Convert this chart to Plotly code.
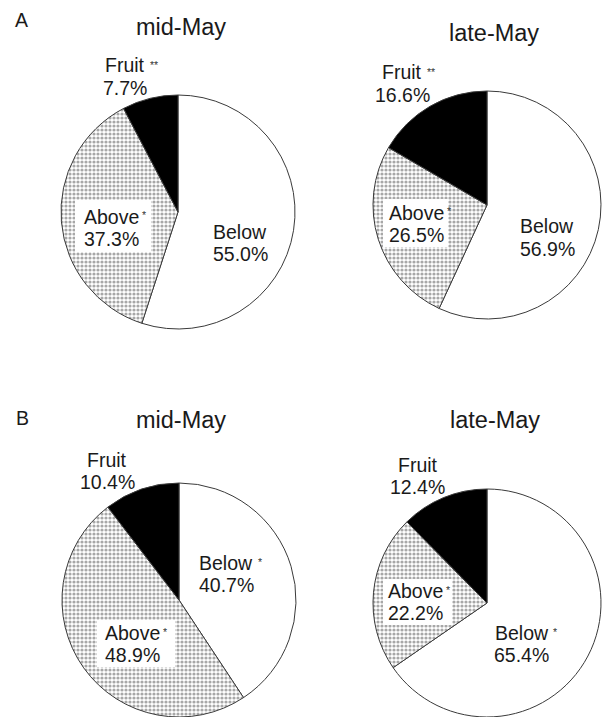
import plotly.graph_objects as go

# Share of assimilates by sink (percent)
categories = ["Below", "Above", "Fruit"]
a_mid = [55.0, 37.3, 7.7]
a_late = [56.9, 26.5, 16.6]
b_mid = [40.7, 48.9, 10.4]
b_late = [65.4, 22.2, 12.4]

# significance marks per sink
a_mid_sig = ["", "*", "**"]
a_late_sig = ["", "*", "**"]
b_mid_sig = ["*", "*", ""]
b_late_sig = ["*", "*", ""]

panel_titles = ["mid-May", "late-May", "mid-May", "late-May"]
panel_letters = ["A", "B"]

W, H = 603, 717
FONT = "Liberation Sans, Arial, sans-serif"
TXT = "#1a1a1a"
LABEL_SIZE = 19.5
LINE_PITCH = 22.5

# (center x, center y, radius) in pixels for each pie
pies = [
    (a_mid, a_mid_sig, (178, 212, 117)),
    (a_late, a_late_sig, (487, 205, 114)),
    (b_mid, b_mid_sig, (179, 600, 117)),
    (b_late, b_late_sig, (487, 603, 114)),
]

# label placement for Below, Above, Fruit: (x, y of first line, alignment)
label_pos = [
    [(240, 231.5, "center"), (82, 216.5, "left"), (125, 65.5, "center")],
    [(547, 226.5, "center"), (387, 212.5, "left"), (402, 72.5, "center")],
    [(226, 562.5, "center"), (103, 632.5, "left"), (107, 459.5, "center")],
    [(521.5, 632.5, "center"), (386, 590.5, "left"), (417.5, 464.5, "center")],
]
# white boxes behind the "Above" labels: (x0, y0, x1, y1) pixels
label_boxes = [
    (75, 200, 151, 252),
    (383, 199, 448, 247),
    (97, 620, 175, 667),
    (383, 579, 452, 625),
]
title_pos = [(181, 27), (494, 33), (181, 420), (495, 420)]
letter_pos = [(21, 20), (22, 418)]

# approximate Arial advance widths (em) for the label names
CHAR_W = {"B": .667, "e": .556, "l": .222, "o": .556, "w": .722, "A": .667,
          "b": .556, "v": .5, "F": .611, "r": .333, "u": .556, "i": .222,
          "t": .278}


def text_w(s, size):
    return sum(CHAR_W.get(c, .556) for c in s) * size


def px(x):
    return x / W


def py(y):
    return 1 - y / H


fig = go.Figure()

for vals, sig, (cx, cy, r) in pies:
    fig.add_trace(go.Pie(
        labels=categories,
        values=vals,
        sort=False,
        direction="clockwise",
        rotation=0,
        textinfo="none",
        textposition="none",
        hoverinfo="skip",
        showlegend=False,
        domain=dict(x=[px(cx - r), px(cx + r)], y=[py(cy + r), py(cy - r)]),
        marker=dict(
            colors=["white", "white", "black"],
            line=dict(color="#3a3a3a", width=1),
            pattern=dict(
                shape=["", ".", ""],
                size=4,
                solidity=0.5,
                fgcolor="#505050",
                bgcolor="white",
                fillmode="overlay",
            ),
        ),
    ))

shapes = []
for x0, y0, x1, y1 in label_boxes:
    shapes.append(dict(
        type="rect", xref="paper", yref="paper",
        x0=px(x0), x1=px(x1), y0=py(y1), y1=py(y0),
        fillcolor="white", line=dict(width=0), layer="above",
    ))

annotations = []


def add_text(x, y, text, size, anchor="center", color=TXT):
    annotations.append(dict(
        x=px(x), y=py(y), xref="paper", yref="paper",
        text=text, showarrow=False,
        xanchor=anchor, yanchor="middle",
        font=dict(family=FONT, size=size, color=color),
    ))


for (vals, sig, _), positions in zip(pies, label_pos):
    for name, v, s, (lx, ly, align) in zip(categories, vals, sig, positions):
        anchor = "left" if align == "left" else "center"
        add_text(lx, ly, name, LABEL_SIZE, anchor)
        add_text(lx, ly + LINE_PITCH, f"{v:.1f}%", LABEL_SIZE, anchor)
        if s:
            nw = text_w(name, LABEL_SIZE)
            right = lx + nw if align == "left" else lx + nw / 2
            add_text(right + 3, ly - 1, s, 10.5, "left", "#333333")

for t, (tx, ty) in zip(panel_titles, title_pos):
    add_text(tx, ty, t, 23.5)

for t, (tx, ty) in zip(panel_letters, letter_pos):
    add_text(tx, ty, t, 19.5)

fig.update_layout(
    width=W, height=H,
    margin=dict(l=0, r=0, t=0, b=0),
    paper_bgcolor="white",
    plot_bgcolor="white",
    shapes=shapes,
    annotations=annotations,
)

fig.write_html("out.html")
